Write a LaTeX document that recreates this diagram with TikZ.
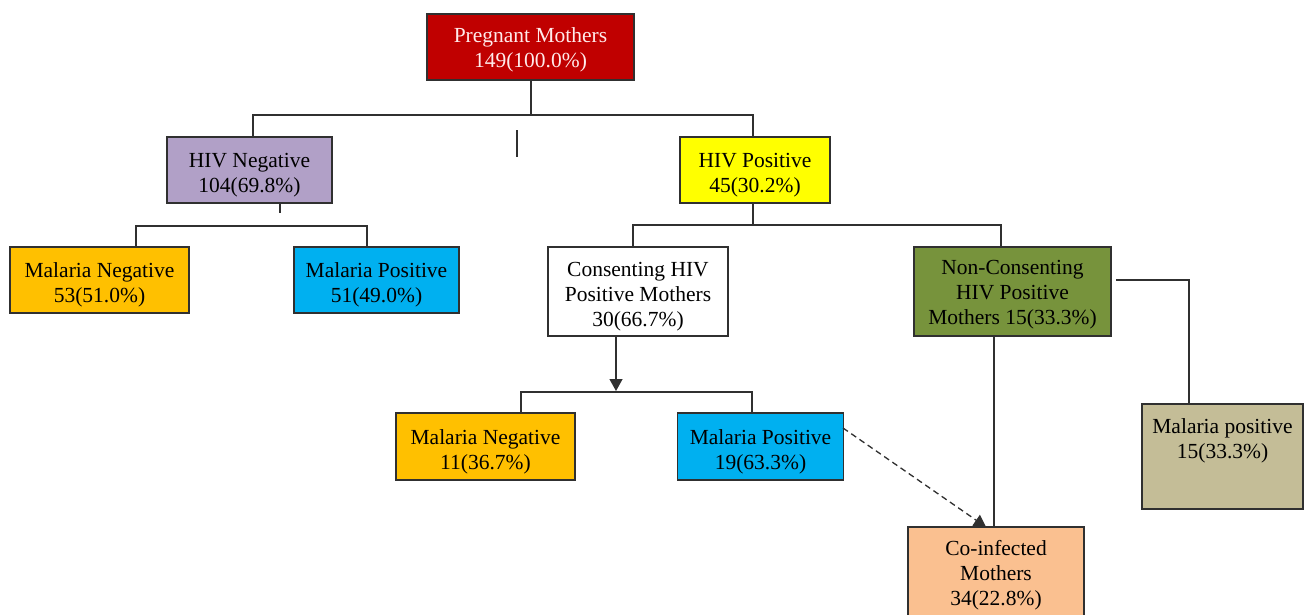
\documentclass[tikz,border=0pt]{standalone}
\usepackage{fontspec}
\setmainfont{Liberation Serif}
\usetikzlibrary{arrows.meta}
\definecolor{cred}{HTML}{C00000}
\definecolor{cpurple}{HTML}{B1A0C7}
\definecolor{cyellow}{HTML}{FFFF00}
\definecolor{corange}{HTML}{FFC000}
\definecolor{ccyan}{HTML}{00B0F0}
\definecolor{cgreen}{HTML}{77933C}
\definecolor{ctan}{HTML}{C4BD97}
\definecolor{cpeach}{HTML}{FAC090}
\definecolor{cline}{HTML}{303030}
\newcommand\tpstrut{\rule{0pt}{25pt}}
\tikzset{
  box/.style={draw=cline, line width=1.3pt, inner sep=0pt, align=center,
    font=\fontsize{21.5}{25}\selectfont},
  conn/.style={draw=cline, line width=1.3pt},
  tip/.style={-{Triangle[length=12pt,width=13pt]}},
  lbl/.style={inner sep=0pt, align=center, font=\fontsize{21.5}{25}\selectfont}
}
\begin{document}
\begin{tikzpicture}[x=1pt,y=-1pt]
\useasboundingbox (0,0) rectangle (1305,614);
\clip (0,0) rectangle (1305,614);
% boxes
\node[box, fill=cred, text=white!92!red, minimum width=207pt, minimum height=66pt] (pm) at (530.5,47) {\rule{0pt}{20pt}Pregnant Mothers\\149(100.0\%)};
\node[box, fill=cpurple, minimum width=165pt, minimum height=66pt] (hivn) at (249.5,170) {\tpstrut HIV Negative\\104(69.8\%)};
\node[box, fill=cyellow, minimum width=150pt, minimum height=66pt] (hivp) at (755,170) {\tpstrut HIV Positive\\45(30.2\%)};
\node[box, fill=corange, minimum width=179pt, minimum height=66pt] (mneg1) at (99.5,280) {\tpstrut Malaria Negative\\53(51.0\%)};
\node[box, fill=ccyan, minimum width=165pt, minimum height=66pt] (mpos1) at (376.5,280) {\tpstrut Malaria Positive\\51(49.0\%)};
\node[box, fill=white, minimum width=180pt, minimum height=89pt] (cons) at (638,291.5) {\tpstrut Consenting HIV\\Positive Mothers\\30(66.7\%)};
\node[box, fill=cgreen, minimum width=197pt, minimum height=89pt] (ncons) at (1012.5,291.5) {\rule{0pt}{21pt}Non-Consenting\\HIV Positive\\Mothers 15(33.3\%)};
\node[box, fill=corange, minimum width=179pt, minimum height=67pt] (mneg2) at (485.5,446.5) {\tpstrut Malaria Negative\\11(36.7\%)};
\node[box, fill=ccyan, minimum width=166pt, minimum height=67pt] (mpos2) at (760.5,446.5) {\tpstrut Malaria Positive\\19(63.3\%)};
\node[box, fill=ctan, minimum width=161pt, minimum height=105pt] (mposr) at (1222.5,456.5) {};
\node[lbl, anchor=north] (mposrt) at (1222.5,418) {Malaria positive\\15(33.3\%)};
\node[box, fill=cpeach, minimum width=176pt, minimum height=100pt] (coinf) at (996,577) {};
\node[lbl, anchor=north] (coinft) at (996,540) {Co-infected\\Mothers\\34(22.8\%)};
% coordinates
\coordinate (j1) at (531,115);
\coordinate (jl) at (253,115);
\coordinate (jr) at (753,115);
\coordinate (s1) at (517,130);
\coordinate (s2) at (517,157);
\coordinate (hn1) at (280,203);
\coordinate (hn2) at (280,213);
\coordinate (l1) at (136,226);
\coordinate (r1) at (367,226);
\coordinate (j2) at (753,225);
\coordinate (l2) at (633,225);
\coordinate (r2) at (1001,225);
\coordinate (a1) at (616,391);
\coordinate (l3) at (521,392);
\coordinate (r3) at (752,392);
\coordinate (nc1) at (994,336);
\coordinate (rr1) at (1116,280);
\coordinate (rr2) at (1189,280);
\coordinate (d1) at (843,428);
\coordinate (d2) at (986,527);
% connectors
\draw[conn] (pm.south -| j1) -- (j1);
\draw[conn] (jl |- hivn.north) -- (jl) -- (jr) -- (jr |- hivp.north);
\draw[conn] (s1) -- (s2);
\draw[conn] (hn1) -- (hn2);
\draw[conn] (l1 |- mneg1.north) -- (l1) -- (r1) -- (r1 |- mpos1.north);
\draw[conn] (hivp.south -| j2) -- (j2);
\draw[conn] (l2 |- cons.north) -- (l2) -- (r2) -- (r2 |- ncons.north);
\draw[conn, tip] (cons.south -| a1) -- (a1);
\draw[conn] (l3 |- mneg2.north) -- (l3) -- (r3) -- (r3 |- mpos2.north);
\draw[conn] (nc1) -- (nc1 |- coinf.north);
\draw[conn] (rr1) -- (rr2) -- (rr2 |- mposr.north);
\draw[conn, dashed, dash pattern=on 6pt off 4pt, tip] (d1) -- (d2);
\end{tikzpicture}
\end{document}
